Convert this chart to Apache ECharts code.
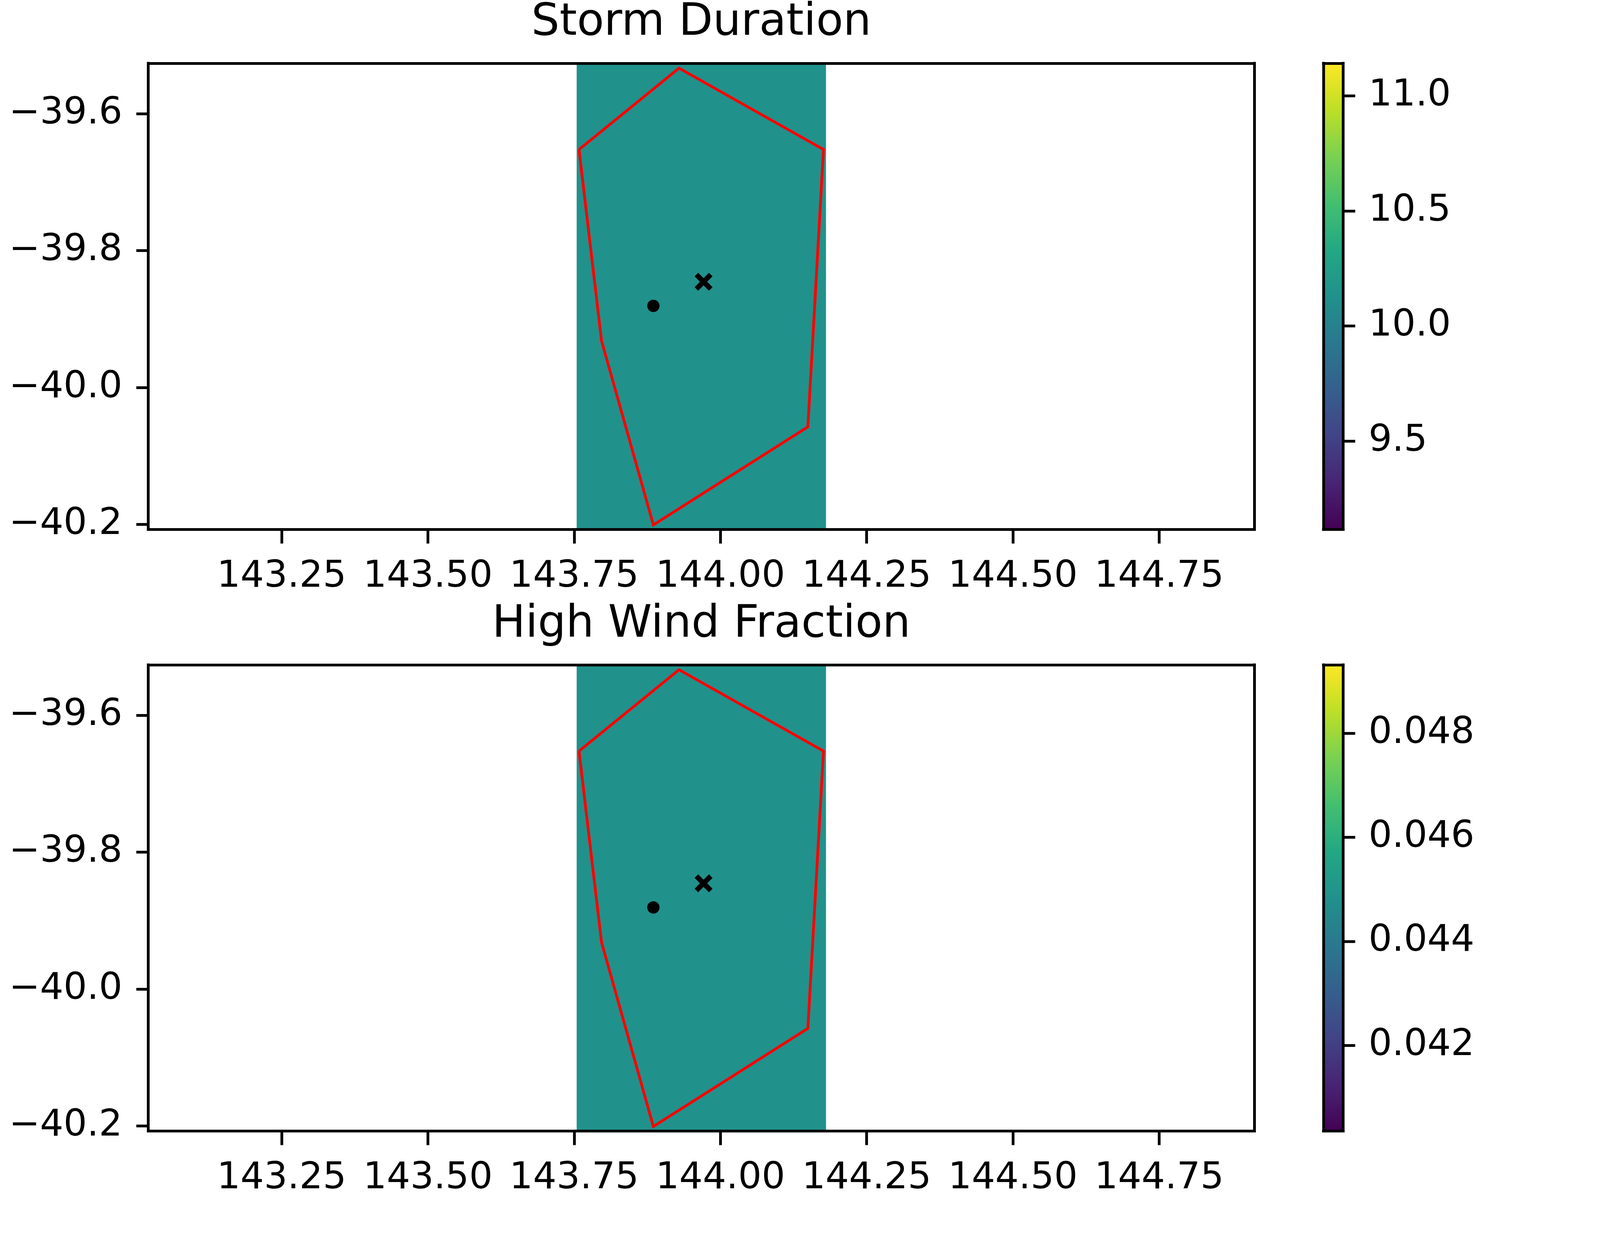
<!DOCTYPE html>
<html>
<head>
<meta charset="utf-8">
<style>html,body{margin:0;padding:0;background:#fff;overflow:hidden}#c{width:100vw;height:100vh}</style>
<script src="https://cdn.jsdelivr.net/npm/echarts@6/dist/echarts.min.js"></script>
</head>
<body>
<div id="c"></div>
<script>
// ---- data ----
const panelTitles = ['Storm Duration', 'High Wind Fraction'];
const xTicks = [143.25, 143.5, 143.75, 144, 144.25, 144.5, 144.75];
const yTicks = [-39.6, -39.8, -40.0, -40.2];
const xRange = [143.0221, 144.9127];
const yRange = [-40.2073, -39.5264];
const polygonLon = [143.7583, 143.9292, 144.1762, 144.1495, 143.8854, 143.7968, 143.7583];
const polygonLat = [-39.6523, -39.5335, -39.6523, -40.0574, -40.2006, -39.9317, -39.6523];
const dotPoint = [143.8854, -39.8807];
const crossPoint = [143.9712, -39.8455];
const cellLon = [143.7543, 144.1805];
const cellLat = [-40.4, -39.3];
const storm = { value: 10.128, range: [9.1156, 11.1415], ticks: [9.5, 10.0, 10.5, 11.0], digits: 1 };
const wind = { value: 0.04484, range: [0.04035, 0.04932], ticks: [0.042, 0.044, 0.046, 0.048], digits: 3 };
const viridis = ['#440154', '#482475', '#414487', '#355f8d', '#2a788e', '#21918c', '#22a884', '#44bf70', '#7ad151', '#bddf26', '#fde725'];

// ---- layout: reference pixels, mapped onto the window the page really gets ----
const el = document.getElementById('c');
const sx = el.clientWidth / 4800, sy = el.clientHeight / 3200, s = Math.min(sx, sy);
const FONT = '"DejaVu Sans"';
const LW = 8.3 * s, FS = 111 * sx, TITLE_FS = 133 * sx;
const mainBox = { left: 445 * sx, width: 3318 * sx, height: 1193.5 * sy };
const barBox = { left: 3970.4 * sx, width: 59.2 * sx, height: 1193.5 * sy };
const tops = [162 * sy, 1702 * sy];
const titleBaselines = [94 * sy, 1635 * sy];
const line = { show: true, onZero: false, lineStyle: { color: '#000', width: LW, cap: 'square' } };
const tickStyle = { color: '#000', width: LW };
const fmt = (v, d) => v.toFixed(d).replace('-', '\u2212');

const grid = [], xAxis = [], yAxis = [], series = [], title = [];

function addAxes(box, top, xr, yr, opt) {
  const g = grid.length;
  grid.push({ left: box.left, top, width: box.width, height: box.height, containLabel: false, show: false });
  const xi = xAxis.length, yi = yAxis.length;
  const hidden = { axisTick: { show: false }, axisLabel: { show: false }, splitLine: { show: false } };
  const shown = (vals, d, tick, margin) => ({
    axisTick: { show: true, length: tick, inside: false, lineStyle: tickStyle, customValues: vals },
    axisLabel: { show: true, margin, color: '#000', fontFamily: FONT, fontSize: FS, customValues: vals,
                 formatter: v => fmt(v, d), hideOverlap: false, showMinLabel: true, showMaxLabel: true },
    splitLine: { show: false }
  });
  const base = (r) => ({ gridIndex: g, type: 'value', min: r[0], max: r[1], axisLine: line, z: 10, scale: true });
  xAxis.push(Object.assign(base(xr), { position: 'bottom' }, opt.xTicks ? shown(opt.xTicks, 2, 36 * sy, 122 * sy - FS / 2) : hidden));
  xAxis.push(Object.assign(base(xr), { position: 'top' }, hidden));
  yAxis.push(Object.assign(base(yr), { position: 'left' }, opt.yLeft ? shown(opt.yLeft, 1, 36 * sx, 78 * sx) : hidden));
  yAxis.push(Object.assign(base(yr), { position: 'right' }, opt.yRight ? shown(opt.yRight, opt.digits, 36 * sx, 76 * sx) : hidden));
  return { xi, yi };
}

function rectItem(fill) {
  return function (params, api) {
    const a = api.coord([api.value(0), api.value(3)]);
    const b = api.coord([api.value(1), api.value(2)]);
    const shape = echarts.graphic.clipRectByRect(
      { x: a[0], y: a[1], width: b[0] - a[0], height: b[1] - a[1] },
      { x: params.coordSys.x, y: params.coordSys.y, width: params.coordSys.width, height: params.coordSys.height });
    return { type: 'rect', shape, style: { fill: fill } };
  };
}

[storm, wind].forEach((m, i) => {
  const top = tops[i];
  const ax = addAxes(mainBox, top, xRange, yRange, { xTicks, yLeft: yTicks });
  const t = (m.value - m.range[0]) / (m.range[1] - m.range[0]);
  series.push({
    type: 'custom', xAxisIndex: ax.xi, yAxisIndex: ax.yi, z: 1, silent: true,
    encode: { x: [0, 1], y: [2, 3] },
    renderItem: rectItem(echarts.color.lerp(t, viridis)),
    data: [[cellLon[0], cellLon[1], cellLat[0], cellLat[1]]]
  });
  series.push({
    type: 'line', xAxisIndex: ax.xi, yAxisIndex: ax.yi, z: 5, showSymbol: false, symbol: 'none', silent: true,
    lineStyle: { color: '#ff0000', width: LW, join: 'miter' },
    data: polygonLon.map((x, k) => [x, polygonLat[k]])
  });
  series.push({
    type: 'scatter', xAxisIndex: ax.xi, yAxisIndex: ax.yi, z: 6, symbol: 'circle', symbolSize: 37 * s, silent: true,
    itemStyle: { color: '#000', opacity: 1 }, data: [dotPoint]
  });
  series.push({
    type: 'scatter', xAxisIndex: ax.xi, yAxisIndex: ax.yi, z: 6, silent: true,
    symbol: 'path://M20 0L50 30L80 0L100 20L70 50L100 80L80 100L50 70L20 100L0 80L30 50L0 20Z', symbolSize: 54 * s,
    itemStyle: { color: '#000', opacity: 1 }, data: [crossPoint]
  });

  const cb = addAxes(barBox, top, [0, 1], m.range, { yRight: m.ticks, digits: m.digits });
  const stops = viridis.map((c, k) => ({ offset: k / (viridis.length - 1), color: c }));
  series.push({
    type: 'custom', xAxisIndex: cb.xi, yAxisIndex: cb.yi + 1, z: 1, silent: true,
    encode: { x: [0, 1], y: [2, 3] },
    renderItem: rectItem(new echarts.graphic.LinearGradient(0, 1, 0, 0, stops)),
    data: [[0, 1, m.range[0], m.range[1]]]
  });

  title.push({
    text: panelTitles[i], left: mainBox.left + mainBox.width / 2, top: titleBaselines[i] - 0.8 * TITLE_FS, textAlign: 'center', padding: 0,
    textStyle: { color: '#000', fontFamily: FONT, fontSize: TITLE_FS, fontWeight: 'normal' }
  });
});

const chart = echarts.init(el, null, { renderer: 'canvas' });
chart.setOption({ backgroundColor: '#fff', animation: false, title, grid, xAxis, yAxis, series, tooltip: { show: false } });
</script>
</body>
</html>
